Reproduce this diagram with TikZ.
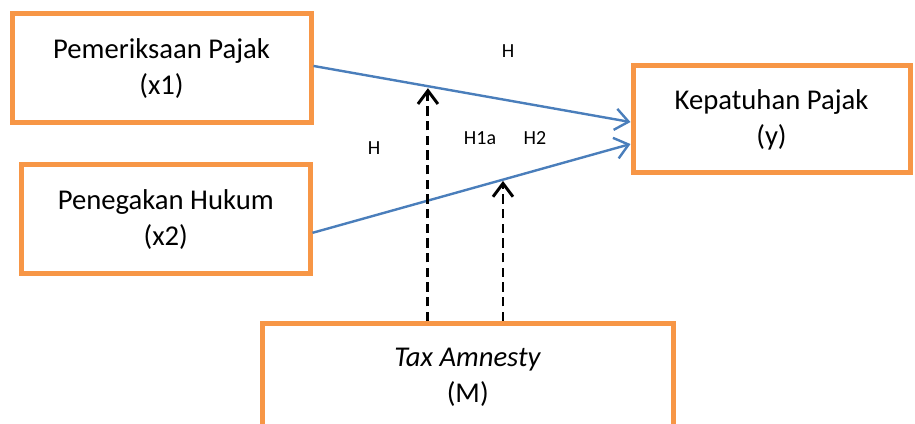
\documentclass[tikz,border=0pt]{standalone}
\usepackage{fontspec}
\setmainfont{Carlito}
\usetikzlibrary{arrows.meta,calc}
\definecolor{boxorange}{HTML}{F79646}
\definecolor{lineblue}{HTML}{4A7EBB}
\begin{document}
\begin{tikzpicture}[x=0.75pt,y=-0.75pt,
    var/.style={draw=boxorange,line width=3.75pt,fill=white,align=center,
        font=\fontsize{21.5}{26.8}\selectfont},
    path/.style={draw=lineblue,line width=1.8pt,-{Straight Barb[length=10pt,width=16pt]}},
    moderate/.style={draw=black,line width=2.2pt,dash pattern=on 7pt off 4pt,
        -{Straight Barb[length=10pt,width=15pt]}},
    hyp/.style={font=\fontsize{15}{18}\selectfont}]
\useasboundingbox (0,0) rectangle (915,424);

\node[var,minimum width=299*0.75pt,minimum height=109*0.75pt] (x1) at (161.5,68.5) {Pemeriksaan Pajak\\(x1)};
\node[var,minimum width=288.5*0.75pt,minimum height=109*0.75pt] (x2) at (165.75,219.5) {Penegakan Hukum\\(x2)};
\node[var,minimum width=277*0.75pt,minimum height=107*0.75pt] (y) at (771.5,119.5) {Kepatuhan Pajak\\(y)};
\node[var,minimum width=410.5*0.75pt,minimum height=107*0.75pt] (m) at (467.75,377) {\textit{Tax Amnesty}\\(M)};

% direct paths
\coordinate (s1) at ([yshift=1.9pt]x1.east);
\coordinate (e1) at ([yshift=-1.9pt]y.west);
\coordinate (s2) at ([yshift=-10pt]x2.east);
\coordinate (e2) at ([yshift=-18.4pt]y.west);
\draw[path] (s1) -- (e1) coordinate[pos=0.361] (h1);
\draw[path] (s2) -- (e2) coordinate[pos=0.599] (h2);

% moderation
\draw[moderate] (m.north -| h1) -- ([yshift=-1.5pt]h1);
\draw[moderate] (m.north -| h2) -- ([yshift=-1pt]h2);

\node[hyp] (ha) at (508,51) {H};
\node[hyp] (hb) at (374,148) {H};
\node[hyp] (hc) at (480,138) {H1a};
\node[hyp] (hd) at (535,138) {H2};
\end{tikzpicture}
\end{document}
